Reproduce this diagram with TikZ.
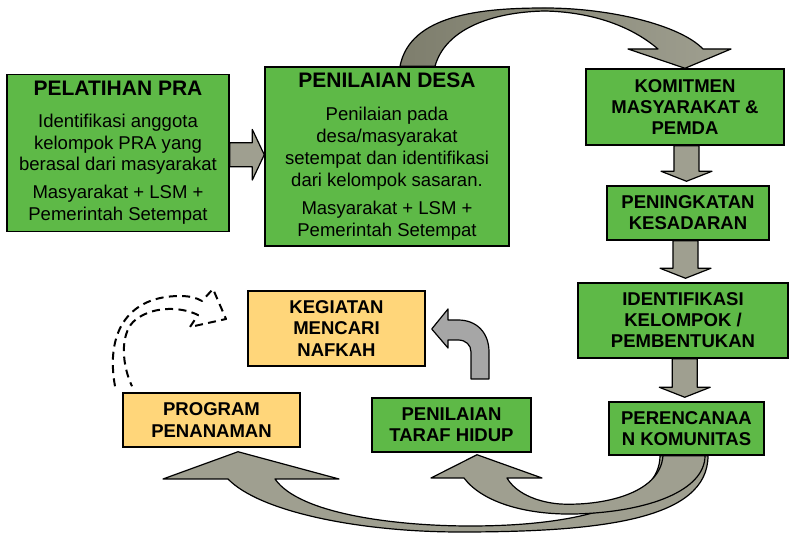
\documentclass[tikz,border=0pt]{standalone}
\usepackage{fontspec}
\setmainfont{Liberation Sans}
\usepackage{xcolor}
\usepackage{tikz}
\usetikzlibrary{calc}
\definecolor{hijau}{HTML}{5EB947}
\definecolor{kuning}{HTML}{FFD67A}
\definecolor{abu}{HTML}{9F9F90}
\definecolor{abugelap}{HTML}{7E7E6D}
\definecolor{abumuda}{HTML}{A6A6A6}
\pgfdeclarelayer{latar}
\pgfsetlayers{latar,main}
\newcommand{\judul}{\fontsize{15.75}{18}\selectfont\bfseries}
\tikzset{
  kotak/.style={draw=black, line width=1.1pt, fill=hijau, align=center, inner sep=2pt,
    font=\fontsize{13.9}{16.4}\selectfont},
  kotaktebal/.style={kotak, font=\fontsize{13.9}{15.8}\selectfont\bfseries},
  ukuran/.style 2 args={minimum width=#1*0.75pt, minimum height=#2*0.75pt},
  panah/.style={draw=black, line width=0.9pt, fill=abu, line join=round},
  putus/.style={draw=black, line width=1.5pt, dash pattern=on 6pt off 4pt, line join=round}
}

\begin{document}
\begin{tikzpicture}[x=0.75pt, y=-0.75pt]
    \useasboundingbox (0,0) rectangle (790,534);
    % Kotak pelatihan dan penilaian desa
    \node[kotak, ukuran={222}{157}] (pelatihan) at (118,153)
        {{\judul PELATIHAN PRA}\\[7pt] Identifikasi anggota\\ kelompok PRA yang\\ berasal dari masyarakat\\[4.5pt]
         Masyarakat + LSM +\\ Pemerintah Setempat};
    \node[kotak, ukuran={244}{179}] (desa) at (387,156.5)
        {{\judul PENILAIAN DESA}\\[8.5pt] Penilaian pada\\ desa/masyarakat\\ setempat dan identifikasi\\ dari kelompok sasaran.\\[4.5pt]
         Masyarakat + LSM +\\ Pemerintah Setempat};
    % Kolom kanan
    \node[kotaktebal, ukuran={198}{76}] (komitmen) at (685,107) {KOMITMEN\\ MASYARAKAT \&\\ PEMDA};
    \node[kotaktebal, ukuran={162}{54}] (kesadaran) at (688,213) {PENINGKATAN\\ KESADARAN};
    \node[kotaktebal, ukuran={210}{75}] (identifikasi) at (683,320.5) {IDENTIFIKASI\\ KELOMPOK /\\ PEMBENTUKAN};
    \node[kotaktebal, ukuran={155}{53}] (rencana) at (686.5,428.5) {PERENCANAA\\ N KOMUNITAS};
    % Kotak bawah
    \node[kotaktebal, ukuran={159}{54}] (taraf) at (451.5,425) {PENILAIAN\\ TARAF HIDUP};
    \node[kotaktebal, fill=kuning, ukuran={177}{75}] (nafkah) at (336.5,328.5) {KEGIATAN\\ MENCARI\\ NAFKAH};
    \node[kotaktebal, fill=kuning, ukuran={177}{54}] (penanaman) at (211.5,420) {PROGRAM\\ PENANAMAN};

    \begin{pgfonlayer}{latar}
        % Panah lurus
        \draw[panah] let \p1=(pelatihan.east), \p2=(desa.west), \p3=($(pelatihan.east)!.5!(desa.west)$) in
            (\x1,\y3+9pt) -- (\x2-9pt,\y3+9pt) -- (\x2-9pt,\y3+19pt) -- (\x2,\y3)
            -- (\x2-9pt,\y3-19pt) -- (\x2-9pt,\y3-9pt) -- (\x1,\y3-9pt) -- cycle;
        \foreach \a/\b in {komitmen/kesadaran, kesadaran/identifikasi, identifikasi/rencana} {
            \draw[panah] let \p1=(\a.south), \p2=(\b.north), \p3=($(\a.south)!.5!(\b.north)$) in
                (\x3-9.4pt,\y1) -- (\x3-9.4pt,\y2+10.5pt) -- (\x3-19.1pt,\y2+10.5pt) -- (\x3,\y2+3pt)
                -- (\x3+19.1pt,\y2+10.5pt) -- (\x3+9.4pt,\y2+10.5pt) -- (\x3+9.4pt,\y1) -- cycle;
        }
        % Panah lengkung atas
        \draw[panah, left color=abugelap, right color=abu]
            ($(desa.north)+(13,0)$) .. controls (410,15) and (480,8) .. (545,8)
            .. controls (610,8) and (680,25) .. (703,49) -- (731,49) -- (komitmen.north) -- (628,49) -- (658,49)
            .. controls (630,25) and (590,12) .. (545,11) .. controls (490,12) and (445,30) .. ($(desa.north)+(48,0)$) -- cycle;
        % Panah lengkung bawah
        \draw[panah]
            ($(rencana.south)+(21.5,0)$) .. controls (708,520) and (600,532) .. (460,532)
            .. controls (360,532) and (260,512) .. (228,479) -- (163,479) -- ($(penanaman.south)+(26.5,4)$)
            -- (339,479) -- (275,479) .. controls (300,515) and (400,526) .. (470,526)
            .. controls (590,526) and (660,500) .. ($(rencana.south)+(-26.5,0)$) -- cycle;
        \draw[panah]
            ($(rencana.south)+(-23.5,0)$) .. controls (660,495) and (600,506) .. (560,504)
            .. controls (535,502) and (515,492) .. (507,478) -- (542,478) -- ($(taraf.south)+(25.5,2)$)
            -- (431,478) -- (464,478) .. controls (482,502) and (525,515) .. (575,514)
            .. controls (650,512) and (705,490) .. ($(rencana.south)+(18.5,0)$) -- cycle;
    \end{pgfonlayer}

    % Panah belok ke kegiatan
    \coordinate (pangkal) at (480,379);
    \draw[panah, fill=abumuda] ($(pangkal)+(-9,0)$) -- (471,352) .. controls (471,345) and (466,340) .. (458,340)
        -- (448,340) -- (448,348) -- ($(nafkah.east)+(6,0.5)$) -- (448,309) -- (448,320) -- (458,320)
        .. controls (477,320) and (489,333) .. (489,352) -- ($(pangkal)+(9,0)$) -- cycle;
    % Panah putus-putus
    \draw[putus] ($(penanaman.north)+(-96.5,-6)$) .. controls (105,330) and (130,296) .. (180,296)
        .. controls (190,296) and (197,298) .. (202,301) -- (213,289) -- (226,319) -- (190,327) -- (198,315)
        .. controls (180,306) and (150,306) .. (133,322) .. controls (120,336) and (122,365) .. ($(penanaman.north)+(-79.5,-6)$);
\end{tikzpicture}
\end{document}
